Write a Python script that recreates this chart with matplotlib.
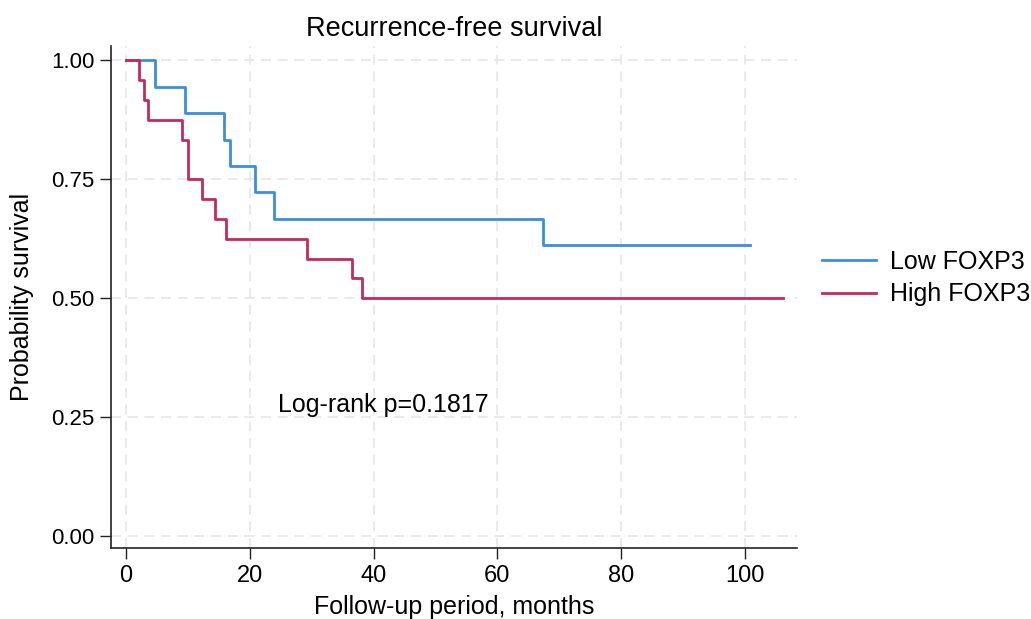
import matplotlib
matplotlib.use("Agg")
import matplotlib.pyplot as plt

plt.rcParams['font.family'] = ['Liberation Sans', 'DejaVu Sans']

# Kaplan-Meier step data (time in months, survival probability)
low_times = [0, 4.7, 9.6, 15.9, 16.8, 20.9, 23.9, 67.3, 100.8]
low_surv = [1.0, 17/18, 16/18, 15/18, 14/18, 13/18, 12/18, 11/18, 11/18]

high_times = [0, 2.1, 2.85, 3.6, 9.05, 10.0, 12.3, 14.4, 16.2, 29.3, 36.5, 38.1, 106.2]
high_surv = [1.0, 23/24, 22/24, 21/24, 20/24, 18/24, 17/24, 16/24, 15/24, 14/24, 13/24, 12/24, 12/24]

labels = ["Low FOXP3", "High FOXP3"]
title = "Recurrence-free survival"
xlabel = "Follow-up period, months"
ylabel = "Probability survival"
annotation = "Log-rank p=0.1817"
xticks = [0, 20, 40, 60, 80, 100]
yticks = [0.0, 0.25, 0.5, 0.75, 1.0]

blue = "#3b8fdc"
red = "#c52a5c"

fig = plt.figure(figsize=(10.31, 6.19), dpi=100)
ax = fig.add_axes([111/1031, 1 - 548/619, (797-111)/1031, (548-46)/619])

ax.step(low_times, low_surv, where='post', color=blue, lw=2, label=labels[0])
ax.step(high_times, high_surv, where='post', color=red, lw=2, label=labels[1])

ax.set_xlim(-2.4, 108.4)
ax.set_ylim(-0.025, 1.03)
ax.set_xticks(xticks)
ax.set_yticks(yticks)
ax.set_yticklabels([f"{v:.2f}" for v in yticks])
ax.tick_params(length=8, width=1, direction='out', pad=4, color='#222222')
ax.tick_params(axis='y', labelsize=16)
ax.tick_params(axis='x', labelsize=17)

for s in ['top', 'right']:
    ax.spines[s].set_visible(False)
for s in ['left', 'bottom']:
    ax.spines[s].set_linewidth(1.2)
    ax.spines[s].set_color('#222222')

ax.grid(True, color='#e6e6e6', linestyle=(0, (6, 4)), linewidth=1.2)
ax.set_axisbelow(True)

ax.set_title(title, fontsize=19.5, pad=7)
ax.set_xlabel(xlabel, fontsize=18, labelpad=6)
ax.set_ylabel(ylabel, fontsize=18, labelpad=12)

ax.text(24.6, 0.275, annotation, fontsize=18, ha='left', va='center')

leg = fig.legend(loc='center left', bbox_to_anchor=(812/1031, 1 - 278/619),
                 frameon=False, fontsize=18, handlelength=2.16, handletextpad=0.56,
                 labelspacing=0.35, borderaxespad=0)

fig.savefig("out.png", dpi=100)
